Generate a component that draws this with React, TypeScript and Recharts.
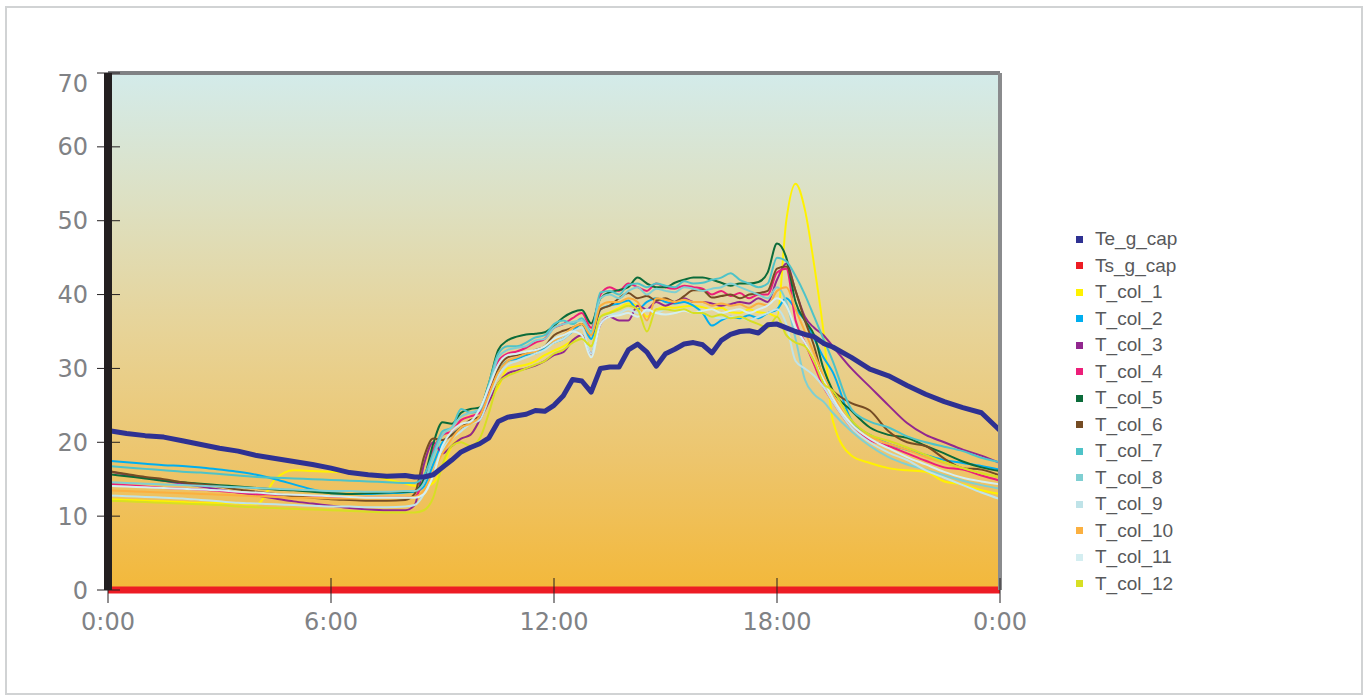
import React from 'react';
import { LineChart, Line, XAxis, YAxis, ReferenceArea, ReferenceLine } from 'recharts';

// time of day in hours
const times = [
  0, 0.5, 1, 1.5, 2, 2.5, 3, 3.5, 4, 4.5, 5, 5.5, 6, 6.5, 7, 7.5, 8,
  8.25, 8.5, 8.75, 9, 9.25, 9.5, 9.75, 10, 10.25, 10.5, 10.75, 11, 11.25, 11.5, 11.75, 12,
  12.25, 12.5, 12.75, 13, 13.25, 13.5, 13.75, 14, 14.25, 14.5, 14.75, 15, 15.25, 15.5, 15.75, 16,
  16.25, 16.5, 16.75, 17, 17.25, 17.5, 17.75, 18, 18.25, 18.5, 18.75, 19, 19.25, 19.5,
  20, 20.5, 21, 21.5, 22, 22.5, 23, 23.5, 24,
];

const teGCap = [
  21.6, 21.2, 20.9, 20.7, 20.2, 19.7, 19.2, 18.8, 18.2, 17.8, 17.4, 17.0, 16.5, 15.9, 15.6, 15.4, 15.5,
  15.3, 15.3, 15.6, 16.6, 17.6, 18.7, 19.3, 19.8, 20.6, 22.8, 23.4, 23.6, 23.8, 24.3, 24.2, 25.0,
  26.3, 28.5, 28.3, 26.8, 30.0, 30.2, 30.2, 32.5, 33.3, 32.2, 30.3, 32.0, 32.6, 33.3, 33.5, 33.2,
  32.1, 33.8, 34.6, 35.0, 35.1, 34.8, 35.9, 36.0, 35.5, 35.0, 34.6, 34.3, 33.4, 32.9,
  31.5, 29.9, 29.0, 27.7, 26.5, 25.5, 24.7, 24.0, 21.6,
];

const tsTimes = [0, 24];
const tsGCap = [0, 0];

const tCol1 = [
  12.3, 12.2, 12.1, 12.0, 11.9, 11.8, 11.8, 11.7, 11.6, 15.0, 16.2, 16.1, 16.0, 15.9, 15.6, 15.0, 14.4,
  14.1, 14.0, 14.5, 16.5, 19.5, 20.5, 21.0, 23.0, 25.5, 27.5, 30.0, 30.3, 30.5, 31.0, 31.8, 32.4,
  33.0, 33.8, 34.5, 33.0, 37.0, 37.6, 38.2, 38.8, 38.5, 37.0, 38.0, 38.3, 38.2, 38.4, 38.5, 38.3,
  38.0, 38.2, 37.6, 37.5, 38.0, 37.6, 37.5, 37.0, 50.0, 55.0, 51.5, 44.0, 35.0, 23.0,
  18.2, 17.2, 16.5, 16.2, 16.0, 14.7, 14.3, 13.5, 13.0,
];

const tCol2 = [
  17.5, 17.3, 17.1, 16.9, 16.8, 16.6, 16.3, 16.0, 15.6, 15.0, 14.3, 13.6, 13.1, 13.0, 13.0, 13.1, 13.2,
  13.3, 14.0, 17.0, 20.0, 21.0, 22.0, 22.5, 23.5, 26.5, 29.5, 31.0, 31.3, 31.8, 32.0, 32.8, 33.5,
  34.0, 35.0, 36.0, 34.0, 38.0, 38.5, 38.8, 39.2, 38.0, 39.0, 39.5, 39.0, 38.8, 39.0, 38.5, 37.5,
  35.8, 36.5, 37.0, 36.8, 37.2, 36.8, 37.5, 38.0, 39.5, 38.0, 36.5, 34.0, 31.5, 29.5,
  23.0, 21.0, 19.8, 19.0, 18.3, 17.6, 17.2, 16.8, 16.3,
];

const tCol3 = [
  16.1, 15.6, 15.2, 14.8, 14.4, 14.0, 13.6, 13.2, 12.8, 12.4, 12.0, 11.7, 11.4, 11.1, 10.9, 10.8, 10.8,
  11.5, 17.0, 20.0, 18.5, 19.5, 20.5, 21.0, 23.0, 25.5, 28.0, 29.3, 29.7, 30.0, 30.4, 31.0, 31.8,
  32.2, 33.8, 34.5, 32.0, 36.0, 37.0, 36.5, 36.5, 38.5, 38.0, 39.0, 38.5, 39.0, 39.5, 39.0, 39.0,
  38.8, 38.5, 38.7, 39.0, 38.8, 39.5, 39.0, 42.0, 44.2, 40.5, 37.0, 35.5, 34.5, 33.0,
  30.0, 27.5, 25.0, 22.6, 21.0, 20.0, 19.0, 18.2, 17.2,
];

const tCol4 = [
  14.4, 14.2, 14.0, 13.8, 13.7, 13.6, 13.4, 13.2, 13.0, 12.9, 12.8, 12.7, 12.6, 12.5, 12.5, 12.5, 12.5,
  12.6, 15.0, 19.0, 21.0, 21.5, 23.0, 23.5, 24.0, 27.0, 31.0, 32.0, 32.3, 32.8, 33.5, 34.0, 35.5,
  36.0, 36.8, 37.5, 35.5, 40.0, 41.0, 40.5, 41.5, 41.0, 40.5, 41.5, 41.0, 40.8, 41.2, 41.0, 40.8,
  40.0, 40.5, 39.8, 40.2, 39.5, 40.0, 40.0, 43.0, 43.5, 36.5, 33.5, 30.5, 27.5, 25.5,
  22.0, 20.3, 19.5, 18.5, 17.5, 16.6, 16.3, 15.5, 14.8,
];

const tCol5 = [
  15.7, 15.4, 15.1, 14.8, 14.6, 14.4, 14.2, 14.0, 13.8, 13.6, 13.5, 13.3, 13.1, 13.0, 13.1, 13.2, 13.3,
  13.4, 15.0, 19.8, 22.7, 22.5, 24.0, 24.5, 24.7, 28.0, 32.5, 33.8, 34.3, 34.6, 34.7, 34.9, 35.8,
  36.9, 37.6, 37.9, 36.1, 39.5, 40.3, 40.6, 41.0, 42.3, 41.5, 41.0, 41.0, 41.6, 42.0, 42.3, 42.3,
  42.0, 41.6, 41.2, 41.5, 41.5, 41.7, 43.0, 46.9, 45.0, 39.0, 36.5, 34.5, 30.0, 27.0,
  24.3, 22.0, 21.0, 20.6, 19.5, 18.5, 17.4, 16.6, 16.1,
];

const tCol6 = [
  16.1, 15.7, 15.3, 15.0, 14.6, 14.3, 14.0, 13.6, 13.3, 13.0, 12.7, 12.5, 12.3, 12.2, 12.1, 12.1, 12.2,
  13.0, 18.0, 20.5, 20.3, 21.0, 22.0, 23.0, 23.5, 26.5, 30.0, 31.5, 31.8, 32.0, 32.5, 33.0, 34.5,
  35.1, 35.5, 36.0, 34.5, 38.0, 38.5, 39.5, 40.2, 39.5, 39.8, 39.2, 39.5, 39.0, 39.8, 40.6, 40.6,
  39.6, 39.8, 40.0, 39.5, 40.0, 40.2, 40.5, 43.5, 43.8, 40.5, 36.5, 33.0, 28.5, 27.0,
  25.3, 24.3, 21.5, 20.0, 19.5, 17.8, 16.5, 16.3, 15.5,
];

const tCol7 = [
  16.8, 16.6, 16.4, 16.2, 16.0, 15.9, 15.7, 15.5, 15.3, 15.2, 15.1, 15.0, 14.9, 14.8, 14.7, 14.6, 14.5,
  14.5, 15.5, 18.5, 21.5, 22.0, 24.5, 24.0, 24.3, 28.0, 32.0, 33.0, 33.0, 33.5, 34.2, 34.5, 36.0,
  36.5, 36.0, 36.8, 35.0, 40.3, 40.5, 40.0, 41.3, 41.5, 41.0, 41.5, 41.2, 41.0, 41.8, 41.5, 41.6,
  42.0, 42.3, 42.9, 42.0, 41.5, 41.0, 41.5, 45.0, 44.5, 42.5, 40.0, 37.0, 34.0, 31.0,
  24.5, 22.8, 22.0, 20.8, 20.0, 19.4, 18.8, 17.9, 17.3,
];

const tCol8 = [
  14.6, 14.5, 14.4, 14.3, 14.2, 14.1, 14.0, 13.9, 13.8, 13.7, 13.6, 13.5, 13.4, 13.4, 13.3, 13.3, 13.4,
  13.4, 14.5, 18.0, 21.0, 22.0, 23.5, 24.0, 24.5, 27.5, 31.5, 32.5, 32.8, 33.0, 33.8, 34.0, 35.5,
  36.0, 36.3, 36.5, 34.8, 39.5, 40.0, 39.5, 40.5, 41.0, 40.0, 40.8, 40.5, 40.3, 41.0, 40.8, 40.5,
  40.8, 41.0, 41.5, 41.0, 40.5, 40.0, 39.5, 41.0, 39.0, 34.0, 28.5, 26.5, 25.5, 24.0,
  21.5, 19.5, 18.0, 17.0, 16.3, 15.5, 14.8, 14.2, 13.7,
];

const tCol9 = [
  12.8, 12.7, 12.6, 12.5, 12.4, 12.2, 12.0, 11.8, 11.7, 11.6, 11.5, 11.4, 11.3, 11.3, 11.2, 11.2, 11.3,
  11.5, 13.0, 16.0, 19.0, 20.5, 21.5, 22.5, 23.0, 26.0, 29.0, 30.5, 31.0, 31.5, 32.0, 32.5, 33.5,
  34.0, 35.0, 35.5, 32.0, 37.0, 37.3, 37.5, 38.0, 37.5, 37.8, 37.5, 38.0, 37.8, 38.0, 37.5, 37.5,
  37.0, 36.8, 37.0, 37.0, 36.5, 37.0, 37.5, 38.0, 36.0, 31.0, 30.0, 29.0, 27.5, 25.5,
  22.0, 20.0, 18.6, 17.6, 16.2, 15.2, 14.2, 13.2, 12.3,
];

const tCol10 = [
  13.5, 13.4, 13.3, 13.2, 13.1, 13.0, 12.9, 12.8, 12.7, 12.6, 12.5, 12.5, 12.4, 12.4, 12.4, 12.4, 12.5,
  12.6, 13.5, 16.0, 18.5, 20.5, 22.0, 22.5, 23.5, 26.5, 29.5, 31.0, 31.5, 32.0, 32.3, 33.0, 33.8,
  34.5, 35.5, 36.0, 34.5, 38.5, 39.0, 39.0, 39.5, 39.0, 36.5, 39.5, 39.3, 39.0, 39.3, 39.0, 39.0,
  38.5, 38.8, 38.5, 38.7, 38.2, 38.8, 38.5, 40.5, 41.0, 38.0, 35.0, 32.0, 29.0, 26.5,
  22.5, 20.8, 19.8, 19.0, 18.0, 17.2, 16.5, 15.8, 15.2,
];

const tCol11 = [
  14.1, 14.0, 13.9, 13.8, 13.7, 13.6, 13.5, 13.3, 13.2, 13.0, 12.9, 12.8, 12.7, 12.6, 12.5, 12.5, 12.5,
  12.5, 13.0, 15.5, 19.5, 21.5, 22.5, 22.8, 24.5, 27.5, 30.5, 31.8, 32.0, 32.3, 32.5, 33.0, 34.0,
  34.5, 35.0, 34.5, 31.5, 36.0, 37.0, 37.2, 37.5, 37.0, 38.0, 37.5, 37.3, 37.5, 37.8, 37.5, 37.8,
  38.0, 37.5, 37.8, 38.0, 37.5, 38.0, 38.5, 39.5, 38.5, 35.5, 33.5, 31.0, 28.5, 26.0,
  22.5, 20.5, 19.2, 18.0, 17.0, 16.0, 15.2, 14.7, 14.3,
];

const tCol12 = [
  12.1, 12.0, 11.9, 11.8, 11.7, 11.6, 11.5, 11.3, 11.2, 11.1, 11.0, 10.9, 10.8, 10.7, 10.6, 10.5, 10.5,
  10.5, 10.8, 12.5, 17.0, 19.5, 20.0, 19.5, 20.5, 24.0, 28.0, 29.0, 29.5, 30.0, 30.5, 31.0, 32.0,
  32.5, 33.5, 34.0, 33.0, 37.0, 37.5, 38.0, 38.5, 38.0, 35.0, 38.0, 38.0, 37.8, 38.0, 37.5, 37.5,
  37.0, 37.3, 36.8, 37.0, 36.5, 36.0, 35.5, 37.0, 34.5, 33.5, 33.0, 31.0, 28.0, 27.0,
  23.0, 21.0, 20.2, 19.3, 18.3, 17.3, 16.5, 15.8, 15.3,
];

const seriesNames = ['Te_g_cap', 'Ts_g_cap', 'T_col_1', 'T_col_2', 'T_col_3', 'T_col_4', 'T_col_5', 'T_col_6', 'T_col_7', 'T_col_8', 'T_col_9', 'T_col_10', 'T_col_11', 'T_col_12'];
const seriesColors = ['#2e3192', '#ed1c24', '#fff200', '#00aeef', '#92278f', '#ec1e79', '#0b6b3a', '#754c24', '#4ec3c8', '#7fcfd2', '#bfe3e8', '#fbb040', '#d4eef1', '#d7df23'];

const yTicks = [0, 10, 20, 30, 40, 50, 60, 70];
const xTicks = [0, 6, 12, 18, 24];
const xTickLabels = ['0:00', '6:00', '12:00', '18:00', '0:00'];

const colSeries = [tCol1, tCol2, tCol3, tCol4, tCol5, tCol6, tCol7, tCol8, tCol9, tCol10, tCol11, tCol12];

const rows = times.map((t, i) => {
  const r: Record<string, number> = { t, Te_g_cap: teGCap[i] };
  colSeries.forEach((s, k) => { r[seriesNames[k + 2]] = s[i]; });
  return r;
});
const tsRows = tsTimes.map((t, i) => ({ t, Ts_g_cap: tsGCap[i] }));

const labelFont = '"DejaVu Sans", sans-serif';
const labelColor = '#808285';

const YTick = (props: any) => {
  const { x, y, payload } = props;
  const top = payload.value === 70;
  return (
    <g>
      <line x1={x - 11} x2={x + 12} y1={y} y2={y} stroke="#231f20" strokeWidth={1} />
      <text x={x - 20} y={y + (top ? 19 : 8.5)} textAnchor="end" fontFamily={labelFont} fontSize={24} fill={labelColor}>
        {payload.value}
      </text>
    </g>
  );
};

const XTick = (props: any) => {
  const { x, y, payload, index } = props;
  return (
    <g>
      <line x1={x} x2={x} y1={y - 12} y2={y + 13} stroke="#231f20" strokeWidth={1} />
      <text x={x} y={y + 40} textAnchor="middle" fontFamily={labelFont} fontSize={24} fill={labelColor}>
        {xTickLabels[index] ?? xTickLabels[xTicks.indexOf(payload.value)]}
      </text>
    </g>
  );
};

export default function App() {
  return (
    <div style={{ position: 'absolute', left: 0, top: 0, width: 1367, height: 695, background: '#fff', overflow: 'hidden' }}>
      <div style={{ position: 'absolute', left: 5, top: 6, width: 1358, height: 689, border: '2px solid #d1d3d4', boxSizing: 'border-box' }} />
      <div style={{ position: 'absolute', left: 0, top: 0 }}>
        <LineChart width={1367} height={695} data={rows} margin={{ top: 73, right: 367, bottom: 0, left: 0 }}>
          <defs>
            <linearGradient id="bgGrad" x1="0" y1="0" x2="0" y2="1">
              <stop offset="0%" stopColor="#d3ebea" />
              <stop offset="25%" stopColor="#dde0c2" />
              <stop offset="50%" stopColor="#e7d397" />
              <stop offset="75%" stopColor="#edc56c" />
              <stop offset="100%" stopColor="#f3b83a" />
            </linearGradient>
          </defs>
          <XAxis dataKey="t" type="number" domain={[0, 24]} ticks={xTicks} height={105} axisLine={false} tickLine={false} tickSize={0} tickMargin={0} tick={<XTick />} interval={0} />
          <YAxis type="number" domain={[0, 70]} ticks={yTicks} width={108} axisLine={false} tickLine={false} tickSize={0} tickMargin={0} tick={<YTick />} interval={0} />
          <ReferenceArea x1={0} x2={24} y1={0} y2={70} fill="url(#bgGrad)" fillOpacity={1} stroke="none" />
          {colSeries.map((_, k) => (
            <Line key={seriesNames[k + 2]} dataKey={seriesNames[k + 2]} type="monotone" stroke={seriesColors[k + 2]} strokeWidth={2} dot={false} activeDot={false} isAnimationActive={false} />
          ))}
          <Line dataKey="Te_g_cap" type="linear" stroke={seriesColors[0]} strokeWidth={5} strokeLinejoin="round" dot={false} activeDot={false} isAnimationActive={false} />
          <Line data={tsRows} dataKey="Ts_g_cap" type="linear" stroke={seriesColors[1]} strokeWidth={7} dot={false} activeDot={false} isAnimationActive={false} />
          <ReferenceLine y={70} stroke="#808285" strokeWidth={4} />
          <ReferenceLine x={24} stroke="#8a8b8d" strokeWidth={4} />
          <ReferenceLine x={0} stroke="#231f20" strokeWidth={8} />
        </LineChart>
      </div>
      <div style={{ position: 'absolute', left: 1076, top: 226 }}>
        {seriesNames.map((n, i) => (
          <div key={n} style={{ display: 'flex', alignItems: 'center', height: 26.5 }}>
            <div style={{ width: 7, height: 7, background: seriesColors[i], marginRight: 12 }} />
            <span style={{ fontFamily: '"Liberation Sans", Arial, sans-serif', fontSize: 19, lineHeight: '26.5px', color: '#58595b' }}>{n}</span>
          </div>
        ))}
      </div>
    </div>
  );
}
